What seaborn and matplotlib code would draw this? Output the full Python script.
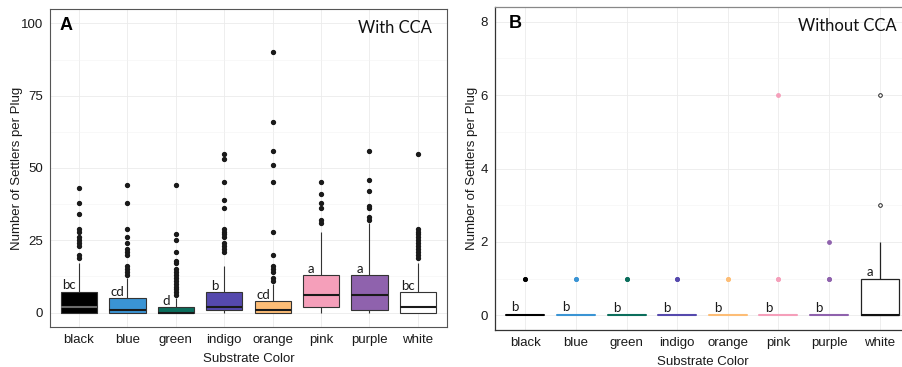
import numpy as np
import pandas as pd
import matplotlib
matplotlib.use("Agg")
import matplotlib.pyplot as plt
import seaborn as sns
from matplotlib.ticker import MultipleLocator

# ---------------- data ----------------
categories = ["black", "blue", "green", "indigo", "orange", "pink", "purple", "white"]
fill_colors = ["#000000", "#3a94d4", "#0b6e5c", "#5549ad", "#fdbd76", "#f59fba", "#8f62ad", "#ffffff"]

# Panel A (With CCA): settler counts as value / frequency, plus outlying plugs
black_A_vals = [0, 1, 2, 3, 4, 5, 6, 7, 9, 11, 13, 15, 17]
black_A_cnts = [35, 10, 12, 5, 5, 5, 5, 10, 2, 2, 1, 1, 1]
black_A_out = [19, 20, 23, 24, 25, 26, 28, 29, 34, 38, 43]

blue_A_vals = [0, 1, 2, 3, 4, 5, 7, 9, 12]
blue_A_cnts = [40, 15, 8, 6, 6, 10, 3, 2, 1]
blue_A_out = [13, 14, 15, 16, 20, 21, 22, 24, 26, 29, 38, 44]

green_A_vals = [0, 1, 2, 3, 4, 5]
green_A_cnts = [60, 10, 15, 5, 3, 2]
green_A_out = [6, 7, 8, 9, 10, 11, 12, 13, 14, 15, 17, 18, 21, 25, 27, 44]

indigo_A_vals = [0, 1, 2, 3, 4, 5, 6, 7, 9, 11, 13, 16]
indigo_A_cnts = [12, 24, 20, 4, 4, 3, 3, 8, 2, 1, 1, 1]
indigo_A_out = [21, 22, 23, 24, 26, 27, 28, 29, 36, 39, 45, 53, 55]

orange_A_vals = [0, 1, 2, 3, 4, 5, 6, 8, 10]
orange_A_cnts = [35, 20, 10, 8, 12, 3, 2, 2, 1]
orange_A_out = [11, 12, 14, 15, 16, 20, 28, 45, 51, 56, 66, 90]

pink_A_vals = [0, 1, 2, 3, 4, 5, 6, 7, 8, 9, 10, 13, 15, 18, 21, 24, 28]
pink_A_cnts = [6, 6, 16, 6, 6, 5, 12, 5, 3, 2, 2, 16, 3, 2, 2, 1, 1]
pink_A_out = [31, 32, 36, 38, 41, 45]

purple_A_vals = [0, 1, 2, 3, 4, 5, 6, 7, 8, 9, 11, 13, 15, 18, 21, 24, 27, 31]
purple_A_cnts = [8, 20, 6, 5, 5, 4, 8, 4, 3, 2, 2, 16, 3, 2, 2, 1, 1, 1]
purple_A_out = [32, 33, 36, 37, 42, 46, 56]

white_A_vals = [0, 1, 2, 3, 4, 5, 6, 7, 9, 11, 13, 15, 17]
white_A_cnts = [35, 10, 12, 5, 5, 5, 5, 10, 2, 2, 1, 1, 1]
white_A_out = [19, 20, 21, 22, 23, 24, 25, 26, 27, 28, 29, 55]

# Panel B (Without CCA)
black_B_vals, black_B_cnts = [0, 1], [30, 2]
blue_B_vals, blue_B_cnts = [0, 1], [30, 2]
green_B_vals, green_B_cnts = [0, 1], [30, 2]
indigo_B_vals, indigo_B_cnts = [0, 1], [30, 2]
orange_B_vals, orange_B_cnts = [0, 1], [30, 2]
pink_B_vals, pink_B_cnts = [0, 1, 6], [30, 2, 1]
purple_B_vals, purple_B_cnts = [0, 1, 2], [30, 2, 1]
white_B_vals, white_B_cnts = [0, 1, 2, 3, 6], [20, 10, 2, 1, 1]

letters_A = ["bc", "cd", "d", "b", "cd", "a", "a", "bc"]
letter_y_A = [9.5, 7.2, 4.0, 9.2, 6.1, 15.2, 15.2, 9.3]
letters_B = ["b", "b", "b", "b", "b", "b", "b", "a"]
letter_y_B = [0.22, 0.24, 0.19, 0.21, 0.19, 0.19, 0.21, 1.17]

A_sets = [
    (black_A_vals, black_A_cnts, black_A_out),
    (blue_A_vals, blue_A_cnts, blue_A_out),
    (green_A_vals, green_A_cnts, green_A_out),
    (indigo_A_vals, indigo_A_cnts, indigo_A_out),
    (orange_A_vals, orange_A_cnts, orange_A_out),
    (pink_A_vals, pink_A_cnts, pink_A_out),
    (purple_A_vals, purple_A_cnts, purple_A_out),
    (white_A_vals, white_A_cnts, white_A_out),
]
B_sets = [
    (black_B_vals, black_B_cnts), (blue_B_vals, blue_B_cnts),
    (green_B_vals, green_B_cnts), (indigo_B_vals, indigo_B_cnts),
    (orange_B_vals, orange_B_cnts), (pink_B_vals, pink_B_cnts),
    (purple_B_vals, purple_B_cnts), (white_B_vals, white_B_cnts),
]

rowsA = []
for cat, (v, c, o) in zip(categories, A_sets):
    vals = list(np.repeat(v, c)) + list(o)
    rowsA += [(cat, x) for x in vals]
dfA = pd.DataFrame(rowsA, columns=["color", "n"])

rowsB = []
for cat, (v, c) in zip(categories, B_sets):
    rowsB += [(cat, x) for x in np.repeat(v, c)]
dfB = pd.DataFrame(rowsB, columns=["color", "n"])

# ---------------- style ----------------
sns.set_style("white")
plt.rcParams["font.family"] = ["Liberation Sans", "DejaVu Sans"]
plt.rcParams["font.size"] = 9

fig = plt.figure(figsize=(9.02, 3.67), dpi=100)
axA = fig.add_axes([0.0554, 0.109, 0.4401, 0.8665])
axB = fig.add_axes([0.5488, 0.1008, 0.4601, 0.880])

# ---------------- panel A ----------------
sns.boxplot(
    data=dfA, x="color", y="n", hue="color", order=categories, hue_order=categories,
    palette=dict(zip(categories, fill_colors)), saturation=1, width=0.75,
    linecolor="#333333", linewidth=0.8, fliersize=2.8,
    flierprops=dict(marker="o", markerfacecolor="#1a1a1a", markeredgecolor="#1a1a1a"),
    medianprops=dict(linewidth=1.5, color="#1a1a1a"),
    capprops=dict(linewidth=0), legend=False, ax=axA,
)
for ln in axA.lines:
    x = np.asarray(ln.get_xdata(), dtype=float)
    y = np.asarray(ln.get_ydata(), dtype=float)
    if len(x) == 2 and abs(x.mean()) < 0.01 and x[0] != x[1] and y[0] == 2 and y[1] == 2:
        ln.set_color("#6a6a6a")

for i, (t, yv) in enumerate(zip(letters_A, letter_y_A)):
    axA.text(i - 0.2, yv, t, ha="center", va="center", fontsize=9.5,
             family=["Lato", "DejaVu Sans"], color="#1a1a1a")

axA.set_ylim(-5, 105)
axA.set_xlim(-0.6, 7.6)
axA.yaxis.set_major_locator(MultipleLocator(25))
axA.yaxis.set_minor_locator(MultipleLocator(12.5))
axA.text(0.025, 0.975, "A", transform=axA.transAxes, ha="left", va="top",
         fontsize=13, fontweight="bold", color="black")
axA.text(0.962, 0.965, "With CCA", transform=axA.transAxes, ha="right", va="top",
         fontsize=12, family=["Lato", "DejaVu Sans"], color="#111111")

# ---------------- panel B ----------------
line_colors_B = ["#000000", "#3a94d4", "#0b6e5c", "#5549ad", "#fdbd76", "#f59fba", "#8f62ad", "#000000"]
for i, cat in enumerate(categories):
    sub = dfB[dfB["color"] == cat]
    col = line_colors_B[i]
    if cat == "white":
        sns.boxplot(
            data=sub, x="color", y="n", order=categories, color="white", saturation=1,
            width=0.75, linecolor="#222222", linewidth=0.9, fliersize=2.6,
            flierprops=dict(marker="o", markerfacecolor="white", markeredgecolor="#222222",
                            markeredgewidth=0.7),
            medianprops=dict(linewidth=1.5, color="#111111"),
            capprops=dict(linewidth=0), ax=axB,
        )
    else:
        sns.boxplot(
            data=sub, x="color", y="n", order=categories, color=col, saturation=1,
            width=0.75, fill=False, linecolor=col, linewidth=1.1, fliersize=2.5,
            flierprops=dict(marker="o", markerfacecolor=col, markeredgecolor=col),
            medianprops=dict(linewidth=1.5, color=col),
            capprops=dict(linewidth=0), ax=axB,
        )

for i, (t, yv) in enumerate(zip(letters_B, letter_y_B)):
    axB.text(i - 0.2, yv, t, ha="center", va="center", fontsize=9.5,
             family=["Lato", "DejaVu Sans"], color="#1a1a1a")

axB.set_ylim(-0.4, 8.4)
axB.set_xlim(-0.6, 7.6)
axB.yaxis.set_major_locator(MultipleLocator(2))
axB.yaxis.set_minor_locator(MultipleLocator(1))
axB.text(0.032, 0.975, "B", transform=axB.transAxes, ha="left", va="top",
         fontsize=13, fontweight="bold", color="black")
axB.text(0.968, 0.965, "Without CCA", transform=axB.transAxes, ha="right", va="top",
         fontsize=12, family=["Lato", "DejaVu Sans"], color="#111111")

# ---------------- common axes styling ----------------
for ax in (axA, axB):
    ax.set_axisbelow(True)
    ax.grid(True, which="major", color="#ebebeb", linewidth=0.6)
    ax.grid(True, which="minor", axis="y", color="#f3f3f3", linewidth=0.4)
    ax.set_xlabel("Substrate Color", fontsize=9.5, color="#1a1a1a", labelpad=5)
    ax.set_ylabel("Number of Settlers per Plug", fontsize=9.5, color="#1a1a1a")
    ax.tick_params(axis="both", which="major", length=3, width=0.6, color="#333333",
                   labelsize=9.5, labelcolor="#1a1a1a", pad=2)
    ax.tick_params(axis="both", which="minor", length=0)
    ax.tick_params(axis="x", pad=2)

axA.yaxis.set_label_coords(-0.068, 0.5)
axB.yaxis.set_label_coords(-0.040, 0.5)

for s in axA.spines.values():
    s.set_color("#555555")
    s.set_linewidth(0.8)
for name, s in axB.spines.items():
    s.set_linewidth(0.9)
    s.set_color("#333333" if name in ("left", "bottom") else "#888888")

fig.savefig("out.png", dpi=100)
